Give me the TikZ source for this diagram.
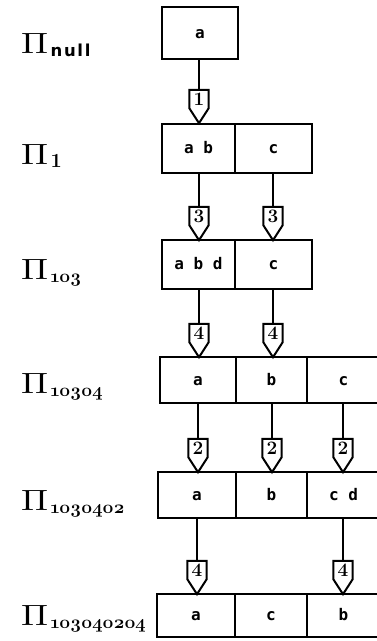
\documentclass[tikz,border=0pt]{standalone}
\usepackage{fontspec}
\usetikzlibrary{calc}
\newfontfamily\cellfont{DejaVu Sans Mono}
\newfontfamily\idxfont[Numbers=OldStyle]{Latin Modern Roman}
\newfontfamily\wordfont[LetterSpace=10]{DejaVu Sans}

% Partition label: big Pi followed by a lowered index
\newcommand\pilabel[1]{\resizebox{27pt}{20pt}{$\Pi$}\kern2.5pt\raisebox{-3pt}{#1}}
\newcommand\oldidx[1]{\idxfont\bfseries\fontsize{18.5}{18}\selectfont #1}

\tikzset{
  cell/.style={draw, line width=2.3pt, inner sep=0pt, text height=10pt, text depth=0pt,
    font=\cellfont\bfseries\fontsize{16}{16}\selectfont},
  link/.style={line width=2.3pt},
  tag/.style={inner sep=0pt, minimum width=19pt, minimum height=18pt,
    font=\bfseries\fontsize{19}{19}\selectfont},
  tagline/.style={line width=2pt, line join=miter},
  plbl/.style={anchor=base west, inner sep=0pt},
}

% Shield-shaped step marker: name, x, y of its tip, step number
\newcommand\steptag[4]{%
  \node[tag] (#1) at ({#2},{#3-24}) {#4};
  \draw[tagline] (#1.north west) -- (#1.south west) -- ($(#1.south)+(0,15)$)
    -- (#1.south east) -- (#1.north east) -- cycle;}

\begin{document}
\begin{tikzpicture}[x=1pt,y=-1pt]
\useasboundingbox (0,0) rectangle (377,641);
\clip (0,0) rectangle (377,641);

% row labels
\node[plbl] (p0) at (21,53)  {\pilabel{\wordfont\bfseries\fontsize{16.5}{16}\selectfont null}};
\node[plbl] (p1) at (21,164) {\pilabel{\bfseries\fontsize{20}{20}\selectfont 1}};
\node[plbl] (p2) at (21,279) {\pilabel{\oldidx{1o3}}};
\node[plbl] (p3) at (21,393) {\pilabel{\oldidx{1o3o4}}};
\node[plbl] (p4) at (21,510) {\pilabel{\oldidx{1o3o4o2}}};
\node[plbl] (p5) at (21,625) {\pilabel{\oldidx{1o3o4o2o4}}};

% row 0
\node[cell, minimum width=76pt, minimum height=52pt] (r0a) at (200,33) {a};
% row 1
\node[cell, minimum width=73pt, minimum height=49pt] (r1a) at (198.5,148.5) {a b};
\node[cell, minimum width=77pt, minimum height=49pt] (r1b) at (273.5,148.5) {c};
% row 2
\node[cell, minimum width=73pt, minimum height=49pt] (r2a) at (198.5,264.5) {a b d};
\node[cell, minimum width=77pt, minimum height=49pt] (r2b) at (273.5,264.5) {c};
% row 3
\node[cell, minimum width=76pt, minimum height=46pt] (r3a) at (198,380) {a};
\node[cell, minimum width=71pt, minimum height=46pt] (r3b) at (271.5,380) {b};
\node[cell, minimum width=73pt, minimum height=46pt] (r3c) at (343.5,380) {c};
% row 4
\node[cell, minimum width=78pt, minimum height=46pt] (r4a) at (197,495) {a};
\node[cell, minimum width=71pt, minimum height=46pt] (r4b) at (271.5,495) {b};
\node[cell, minimum width=73pt, minimum height=46pt] (r4c) at (343.5,495) {c d};
% row 5
\node[cell, minimum width=78pt, minimum height=43pt] (r5a) at (196,615.5) {a};
\node[cell, minimum width=72pt, minimum height=43pt] (r5b) at (271,615.5) {c};
\node[cell, minimum width=73pt, minimum height=43pt] (r5c) at (343.5,615.5) {b};

% step markers
\steptag{t01}{199}{123}{1}
\steptag{t12a}{199}{240}{3}
\steptag{t12b}{273}{240}{3}
\steptag{t23a}{199}{357}{4}
\steptag{t23b}{273}{357}{4}
\steptag{t34a}{198}{472}{2}
\steptag{t34b}{272}{472}{2}
\steptag{t34c}{343}{472}{2}
\steptag{t45a}{197}{594}{4}
\steptag{t45b}{343}{594}{4}

% connectors
\draw[link] (t01.north |- r0a.south) -- (t01.north);
\draw[link] (t12a.north |- r1a.south) -- (t12a.north);
\draw[link] (t12b.north |- r1b.south) -- (t12b.north);
\draw[link] (t23a.north |- r2a.south) -- (t23a.north);
\draw[link] (t23b.north |- r2b.south) -- (t23b.north);
\draw[link] (t34a.north |- r3a.south) -- (t34a.north);
\draw[link] (t34b.north |- r3b.south) -- (t34b.north);
\draw[link] (t34c.north |- r3c.south) -- (t34c.north);
\draw[link] (t45a.north |- r4a.south) -- (t45a.north);
\draw[link] (t45b.north |- r4c.south) -- (t45b.north);
\end{tikzpicture}
\end{document}
